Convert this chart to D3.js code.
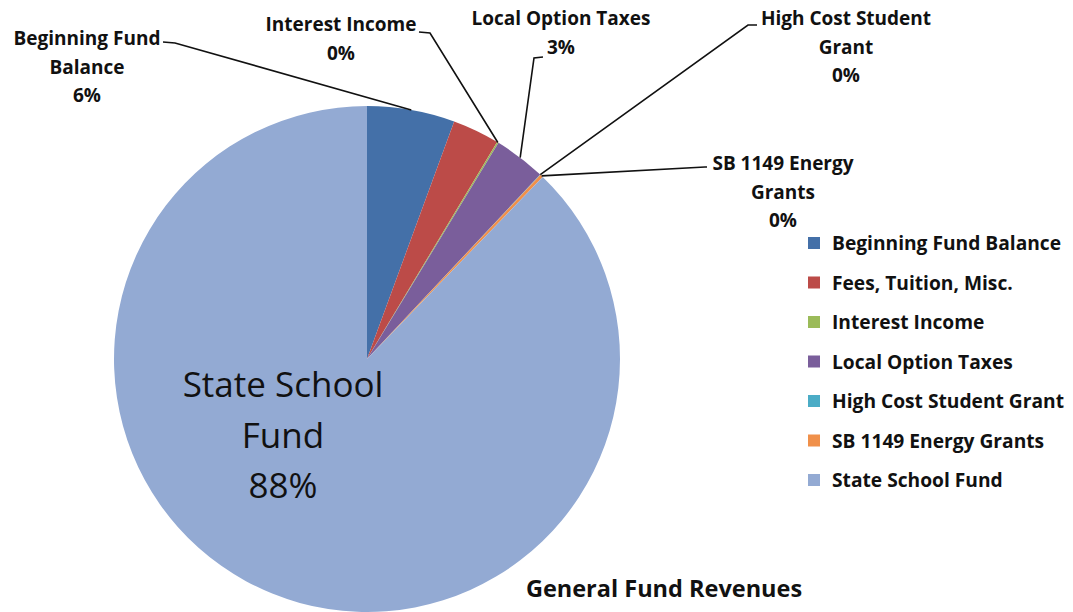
<!DOCTYPE html>
<html>
<head>
<meta charset="utf-8">
<script src="https://cdn.jsdelivr.net/npm/d3@7"></script>
<style>
  html, body { margin: 0; padding: 0; background: #fff; }
  svg text { font-family: "Open Sans", "Noto Sans", sans-serif; fill: #111; }
</style>
</head>
<body>
<svg id="chart" width="1073" height="612"></svg>
<script>
// General Fund revenue shares (percent of total)
const categories = [
  "Beginning Fund Balance",
  "Fees, Tuition, Misc.",
  "Interest Income",
  "Local Option Taxes",
  "High Cost Student Grant",
  "SB 1149 Energy Grants",
  "State School Fund"
];
const values = [5.6, 3.0, 0.1, 3.3, 0.02, 0.2, 87.78];
const colors = ["#4470a8", "#bc4b48", "#9bbb59", "#7a5e9b", "#4bacc6", "#f0904a", "#93aad3"];
const chartTitle = "General Fund Revenues";

const svg = d3.select("#chart");
const cx = 367, cy = 359, radius = 253;

const total = d3.sum(values);
const pct = v => Math.round(v / total * 100) + "%";

const pie = d3.pie().sort(null).value(d => d.value);
const data = pie(categories.map((c, i) => ({ name: c, value: values[i], color: colors[i] })));
const arc = d3.arc().innerRadius(0).outerRadius(radius);

const g = svg.append("g").attr("transform", `translate(${cx},${cy})`);
g.selectAll("path.slice")
  .data(data)
  .join("path")
  .attr("class", "slice")
  .attr("d", arc)
  .attr("fill", d => d.data.color);

// point on the rim at a slice's middle angle, in page coordinates
function rimPoint(d) {
  const a = (d.startAngle + d.endAngle) / 2;
  return [cx + radius * Math.sin(a), cy - radius * Math.cos(a)];
}

// Callout labels for the small slices: slice index, text lines, text anchor, leader elbow
const callouts = [
  { i: 0, x: 87,  y: 45,  lines: ["Beginning Fund", "Balance"], elbow: [[163, 42], [175, 43]] },
  { i: 2, x: 341, y: 31,  lines: ["Interest Income"],            elbow: [[419, 32], [430, 33]] },
  { i: 3, x: 561, y: 25,  lines: ["Local Option Taxes"],         elbow: [[543, 57], [534, 58]] },
  { i: 4, x: 846, y: 25,  lines: ["High Cost Student", "Grant"], elbow: [[757, 25], [748, 25]] },
  { i: 5, x: 783, y: 170, lines: ["SB 1149 Energy", "Grants"],   elbow: [[707, 167], [705, 167]] }
];
const lh = 28.7;

callouts.forEach(c => {
  const d = data[c.i];
  svg.append("path")
    .attr("d", d3.line()([c.elbow[0], c.elbow[1], rimPoint(d)]))
    .attr("fill", "none")
    .attr("stroke", "#111")
    .attr("stroke-width", 1.6);
  const t = svg.append("text")
    .attr("text-anchor", "middle")
    .attr("font-weight", "bold")
    .attr("font-size", 19);
  c.lines.concat([pct(d.value)]).forEach((s, k) => {
    t.append("tspan").attr("x", c.x).attr("y", c.y + k * lh).text(s);
  });
});

// Big label inside the dominant slice
const big = data[6];
const bt = svg.append("text")
  .attr("text-anchor", "middle")
  .attr("font-size", 35);
["State School", "Fund", pct(big.value)].forEach((s, k) => {
  bt.append("tspan").attr("x", 283).attr("y", 397 + k * 50.5).text(s);
});

// Legend
const legend = svg.append("g").attr("transform", "translate(808,243)");
const rows = legend.selectAll("g")
  .data(data)
  .join("g")
  .attr("transform", (d, i) => `translate(0,${i * 39.5})`);
rows.append("rect")
  .attr("x", 0).attr("y", -6).attr("width", 12).attr("height", 12)
  .attr("fill", d => d.data.color);
rows.append("text")
  .attr("x", 24).attr("y", 7)
  .attr("font-size", 19.2)
  .attr("font-weight", "bold")
  .text(d => d.data.name);

// Title
svg.append("text")
  .attr("x", 664).attr("y", 597)
  .attr("text-anchor", "middle")
  .attr("font-size", 23.5)
  .attr("font-weight", "bold")
  .text(chartTitle);
</script>
</body>
</html>
